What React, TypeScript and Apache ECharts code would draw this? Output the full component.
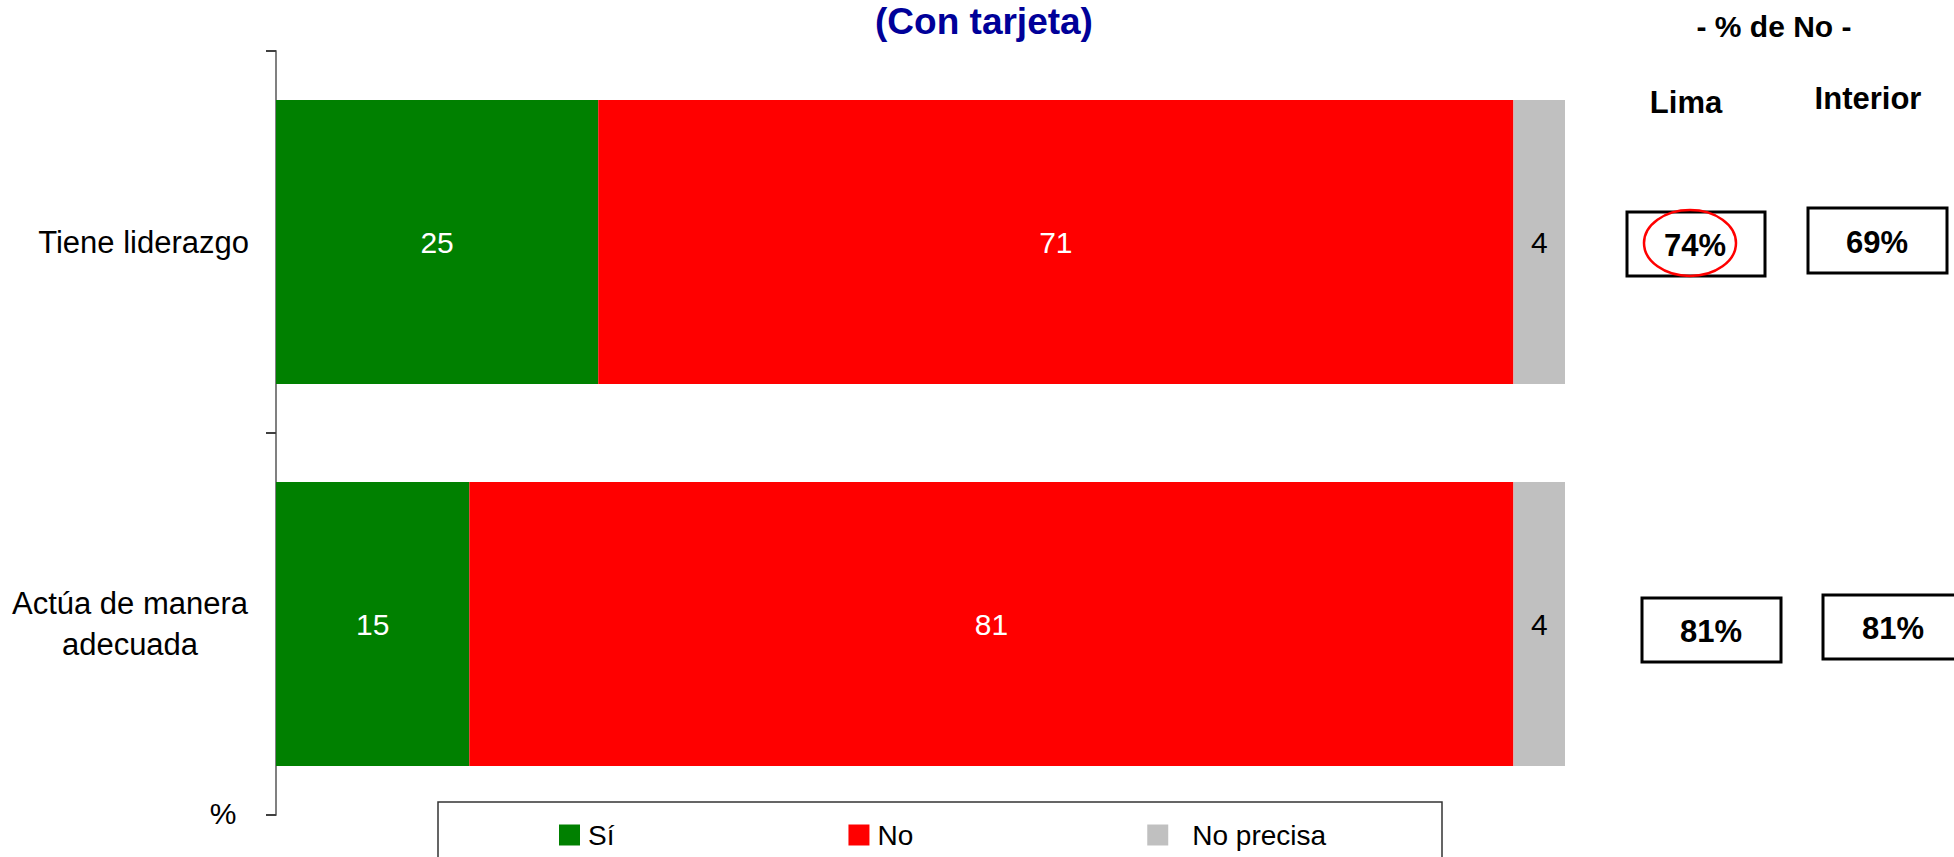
import React, { useEffect, useRef } from "react";
import * as echarts from "echarts";

const categories = ["Tiene liderazgo", "Actúa de manera\nadecuada"];
const siValues = [25, 15];
const noValues = [71, 81];
const noPrecisaValues = [4, 4];
const limaNo = [74, 81];
const interiorNo = [69, 81];
const seriesNames = ["Sí", "No", "No precisa"];

const FONT = "'Liberation Sans', Arial, Helvetica, sans-serif";

export default function App() {
  const ref = useRef<HTMLDivElement>(null);
  useEffect(() => {
    if (!ref.current) return;
    const chart = echarts.init(ref.current, null, { renderer: "svg" });
    const boxText = (x: number, y: number, w: number, h: number, tx: number, ty: number, val: number) => [
      {
        type: "rect",
        shape: { x, y, width: w, height: h },
        style: { fill: "#fff", stroke: "#000", lineWidth: 3 },
      },
      {
        type: "text",
        x: tx,
        y: ty,
        style: {
          text: val + "%",
          font: `bold 31px ${FONT}`,
          fill: "#000",
          align: "center",
          verticalAlign: "middle",
        },
      },
    ];
    const mk = (label: string, color: string, data: number[], labelColor: string) => ({
      name: label,
      type: "bar",
      stack: "total",
      barWidth: 284,
      data,
      itemStyle: { color },
      label: {
        show: true,
        position: "inside",
        color: labelColor,
        fontSize: 30,
        fontFamily: FONT,
      },
    });
    chart.setOption({
      animation: false,
      title: {
        text: "(Con tarjeta)",
        left: 984,
        top: 3,
        textAlign: "center",
        padding: 0,
        textStyle: { color: "#000099", fontSize: 37, fontWeight: "bold", fontFamily: FONT },
      },
      legend: {
        left: 559,
        top: 821,
        itemWidth: 21,
        itemHeight: 21,
        itemGap: 234,
        icon: "rect",
        padding: 0,
        data: seriesNames,
        formatter: (name: string) => (name === "No precisa" ? `{p|${name}}` : `{q|${name}}`),
        textStyle: {
          fontSize: 28,
          color: "#000",
          fontFamily: FONT,
          rich: {
            p: { fontSize: 28, fontFamily: FONT, color: "#000", padding: [0, 0, 0, 19] },
            q: { fontSize: 28, fontFamily: FONT, color: "#000", padding: [0, 0, 0, 3] },
          },
        },
      },
      grid: { left: 276, right: 389, top: 51, bottom: 42, containLabel: false },
      xAxis: {
        type: "value",
        min: 0,
        max: 100,
        show: false,
      },
      yAxis: {
        type: "category",
        inverse: true,
        data: categories,
        axisLine: { show: true, lineStyle: { color: "#808080", width: 2 } },
        axisTick: { show: true, length: 10, lineStyle: { color: "#404040", width: 2 } },
        axisLabel: {
          margin: 27,
          color: "#000",
          fontSize: 31,
          fontFamily: FONT,
          formatter: (v: string) => {
            if (v.indexOf("\n") >= 0) {
              return v
                .split("\n")
                .map((s) => `{c|${s}}`)
                .join("\n");
            }
            return v;
          },
          rich: {
            c: { width: 238, align: "center", fontSize: 31, fontFamily: FONT, lineHeight: 41, color: "#000" },
          },
        },
      },
      series: [
        mk(seriesNames[0], "#008000", siValues, "#fff"),
        mk(seriesNames[1], "#FF0000", noValues, "#fff"),
        mk(seriesNames[2], "#C0C0C0", noPrecisaValues, "#000"),
      ],
      graphic: [
        {
          type: "rect",
          shape: { x: 438, y: 802, width: 1004, height: 80 },
          style: { fill: "none", stroke: "#333", lineWidth: 1.5 },
          z: -1,
        },
        {
          type: "text",
          x: 223,
          y: 813,
          style: { text: "%", font: `30px ${FONT}`, fill: "#000", align: "center", verticalAlign: "middle" },
        },
        {
          type: "text",
          x: 1774,
          y: 26,
          style: { text: "- % de No -", font: `bold 30px ${FONT}`, fill: "#000", align: "center", verticalAlign: "middle" },
        },
        {
          type: "text",
          x: 1686,
          y: 102,
          style: { text: "Lima", font: `bold 31px ${FONT}`, fill: "#000", align: "center", verticalAlign: "middle" },
        },
        {
          type: "text",
          x: 1868,
          y: 98,
          style: { text: "Interior", font: `bold 31px ${FONT}`, fill: "#000", align: "center", verticalAlign: "middle" },
        },
        ...boxText(1627, 212, 138, 64, 1695, 245, limaNo[0]),
        ...boxText(1808, 208, 139, 65, 1877, 242, interiorNo[0]),
        ...boxText(1642, 598, 139, 64, 1711, 631, limaNo[1]),
        ...boxText(1823, 595, 140, 64, 1893, 628, interiorNo[1]),
        {
          type: "ellipse",
          shape: { cx: 1690, cy: 243, rx: 46, ry: 33 },
          style: { fill: "none", stroke: "#FF0000", lineWidth: 2.5 },
          z: 10,
        },
      ],
    });
    return () => chart.dispose();
  }, []);
  return (
    <div
      ref={ref}
      style={{ position: "fixed", left: 0, top: 0, width: 1954, height: 857, background: "#fff" }}
    />
  );
}
